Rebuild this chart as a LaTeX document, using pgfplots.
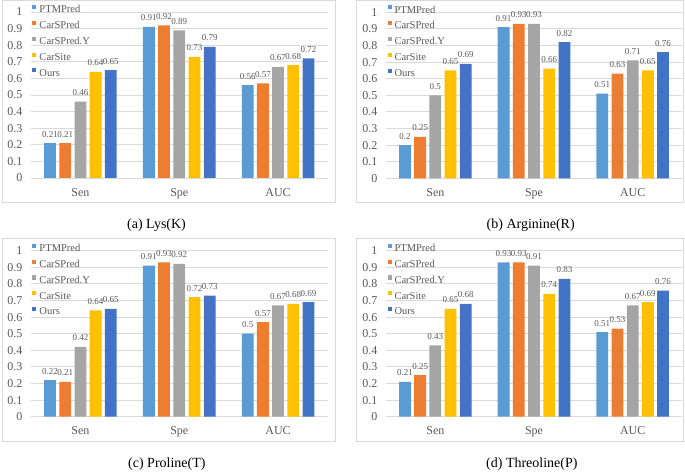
\documentclass[border=0pt]{standalone}
\usepackage{fontspec}
\setmainfont{Liberation Serif}
\usepackage{pgfplots}
\usepackage{pgfplotstable}
\pgfplotsset{compat=1.18}

\definecolor{cPTM}{HTML}{5B9BD5}
\definecolor{cCar}{HTML}{ED7D31}
\definecolor{cCarY}{HTML}{A5A5A5}
\definecolor{cSite}{HTML}{FFC000}
\definecolor{cOurs}{HTML}{4472C4}
\definecolor{txt}{HTML}{595959}
\definecolor{gridc}{HTML}{D9D9D9}

% x: 0=Sen 1=Spe 2=AUC
\pgfplotstableread{
x PTMPred CarSPred CarSPredY CarSite Ours
0 0.21 0.21 0.46 0.64 0.65
1 0.91 0.92 0.89 0.73 0.79
2 0.56 0.57 0.67 0.68 0.72
}\lys
\pgfplotstableread{
x PTMPred CarSPred CarSPredY CarSite Ours
0 0.20 0.25 0.50 0.65 0.69
1 0.91 0.93 0.93 0.66 0.82
2 0.51 0.63 0.71 0.65 0.76
}\arg
\pgfplotstableread{
x PTMPred CarSPred CarSPredY CarSite Ours
0 0.22 0.21 0.42 0.64 0.65
1 0.91 0.93 0.92 0.72 0.73
2 0.50 0.57 0.67 0.68 0.69
}\pro
\pgfplotstableread{
x PTMPred CarSPred CarSPredY CarSite Ours
0 0.21 0.25 0.43 0.65 0.68
1 0.93 0.93 0.91 0.74 0.83
2 0.51 0.53 0.67 0.69 0.76
}\thr

\pgfplotsset{
  panel/.style={
    anchor=south west, scale only axis, height=166pt,
    ybar=3.4pt, bar width=11.8pt,
    ymin=0, ymax=1, xmin=-0.5, xmax=2.5,
    ytick={0,0.1,0.2,0.3,0.4,0.5,0.6,0.7,0.8,0.9,1},
    xtick={0,1,2}, xticklabels={Sen,Spe,AUC},
    ymajorgrids, grid style={draw=gridc, line width=0.8pt},
    axis line style={draw=none}, major tick length=0pt,
    /pgf/number format/assume math mode=true,
    ticklabel style={font=\fontsize{12}{14}\selectfont, text=txt},
    yticklabel style={inner sep=0pt, xshift=-8.5pt},
    xticklabel style={inner sep=0pt, anchor=north, yshift=-10pt},
    nodes near coords,
    nodes near coords style={font=\fontsize{9}{10}\selectfont, text=txt,
      anchor=base, inner sep=0pt, yshift=6pt},
    clip=false,
    legend cell align=left,
    legend style={at={(rel axis cs:0,1)}, anchor=north west,
      xshift=1.3pt, yshift=7pt, draw=none, fill=none, inner sep=0pt,
      row sep=5.6pt, column sep=3pt,
      font=\fontsize{10.5}{12}\selectfont, text=txt,
      nodes={inner sep=0pt, text height=7.5pt, text depth=2.5pt}},
    legend image code/.code={\fill[##1] (0pt,1.2pt) rectangle (4pt,5.2pt);},
  },
  panel/.belongs to family=/pgfplots,
}

\newcommand{\bars}[1]{%
  \addplot[fill=cPTM, draw=none] table[x=x, y=PTMPred] {#1};
  \addplot[fill=cCar, draw=none] table[x=x, y=CarSPred] {#1};
  \addplot[fill=cCarY, draw=none] table[x=x, y=CarSPredY] {#1};
  \addplot[fill=cSite, draw=none] table[x=x, y=CarSite] {#1};
  \addplot[fill=cOurs, draw=none] table[x=x, y=Ours] {#1};
  \legend{PTMPred,CarSPred,CarSPred.Y,CarSite,Ours}
}

\begin{document}
\begin{tikzpicture}[x=1pt, y=1pt]
  \useasboundingbox (0,0) rectangle (685,471);
  \draw[gridc, line width=0.9pt] (2,269) rectangle (335,470.5);
  \draw[gridc, line width=0.9pt] (356,269) rectangle (683.5,470.5);
  \draw[gridc, line width=0.9pt] (2,29.5) rectangle (335,233);
  \draw[gridc, line width=0.9pt] (356,29.5) rectangle (683.5,233);

  \begin{axis}[panel, at={(31pt,293pt)}, width=296.5pt]
    \bars{\lys}
  \end{axis}
  \begin{axis}[panel, at={(386pt,292.7pt)}, width=296pt]
    \bars{\arg}
  \end{axis}
  \begin{axis}[panel, at={(31pt,54.3pt)}, width=296.5pt]
    \bars{\pro}
  \end{axis}
  \begin{axis}[panel, at={(386pt,54.3pt)}, width=296pt]
    \bars{\thr}
  \end{axis}

  \node[anchor=west, inner sep=0pt, font=\fontsize{14}{16}\selectfont] at (127,245.5) {(a) Lys(K)};
  \node[anchor=west, inner sep=0pt, font=\fontsize{14}{16}\selectfont] at (486.5,245.5) {(b) Arginine(R)};
  \node[anchor=west, inner sep=0pt, font=\fontsize{14}{16}\selectfont] at (128,6.5) {(c) Proline(T)};
  \node[anchor=west, inner sep=0pt, font=\fontsize{14}{16}\selectfont] at (486,6.5) {(d) Threoline(P)};
\end{tikzpicture}
\end{document}
